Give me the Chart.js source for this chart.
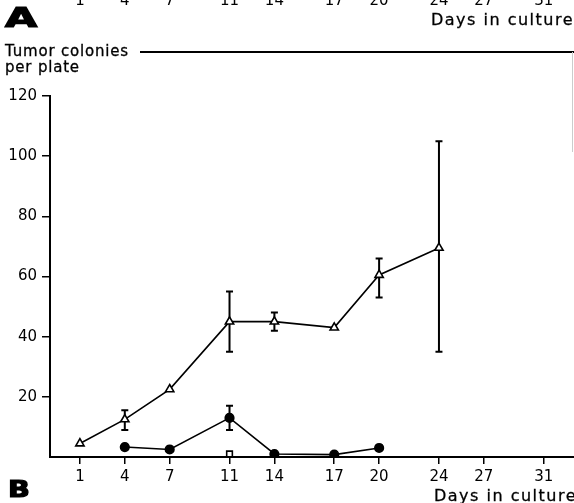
<!DOCTYPE html>
<html>
<head>
<meta charset="utf-8">
<script src="https://cdn.jsdelivr.net/npm/chart.js@4/dist/chart.umd.min.js"></script>
<style>
  html, body { margin: 0; padding: 0; background: #fff; overflow: hidden; }
  #wrap { position: relative; width: 574px; height: 503px; overflow: hidden; font-family: "DejaVu Sans", sans-serif; color: #000; }
  #wrap canvas { position: absolute; left: 0; top: 0; }
  .txt { position: absolute; white-space: nowrap; line-height: 1; -webkit-text-stroke: 0.3px #000; }
  .panel { font-weight: bold; transform-origin: left top; -webkit-text-stroke: 1.2px #000; }
  .xtitle { font-size: 16px; letter-spacing: 1.5px; }
  .ytitle { font-size: 15px; letter-spacing: 0.8px; left: 5px; }
</style>
</head>
<body>
<div id="wrap">
  <canvas id="colonyChart" width="580" height="503"></canvas>
  <div class="txt panel" style="left:5px; top:5px; font-size:26px; transform:scaleX(1.6);">A</div>
  <div class="txt xtitle" style="right:0; top:11.5px;">Days in culture</div>
  <div class="txt ytitle" style="top:44px;">Tumor colonies</div>
  <div class="txt ytitle" style="top:59.5px;">per plate</div>
  <div style="position:absolute; left:140px; top:51px; width:434px; border-top:2px solid #000;"></div>
  <div style="position:absolute; left:572px; top:52px; width:1px; height:100px; background:#ccc;"></div>
  <div class="txt panel" style="left:8px; top:477.5px; font-size:23px; transform:scaleX(1.25);">B</div>
  <div class="txt xtitle" style="right:-3px; top:488px;">Days in culture</div>
</div>
<script>
// Tumor colonies per plate vs days in culture (panel B)
// x axis of the figure is not linear: one category per step, labelled days only

const dayCategories = ['', '', '1', '', '', '4', '', '', '7', '', '', '', '11', '', '', '14', '', '', '',
    '17', '', '', '20', '', '', '', '24', '', '', '27', '', '', '', '31', '', ''];

const yTicks = [0, 20, 40, 60, 80, 100, 120];

// open triangles
const triangleDays = ['1', '4', '7', '11', '14', '17', '20', '24'];
const triangleMean = [4.5, 12.5, 22.5, 45, 45, 43, 60.5, 69.5];
const triangleLow = [null, 9, null, 35, 42, null, 53, 35];
const triangleHigh = [null, 15.5, null, 55, 48, null, 66, 105];

// filled circles
const circleDays = ['4', '7', '11', '14', '17', '20'];
const circleMean = [3.3, 2.5, 13, 1, 0.8, 3];
const circleLow = [null, null, 9, null, null, null];
const circleHigh = [null, null, 17, null, null, null];

// open square
const squareDays = ['11'];
const squareMean = [1];

const toPoints = (days, values) => days.map((d, i) => ({ x: d, y: values[i] }));

// vertical bars with caps, drawn before each dataset so markers sit on top
const errorBars = {
    id: 'errorBars',
    beforeDatasetDraw(chart, args) {
        const ds = chart.data.datasets[args.index];
        if (!ds.errLow) return;
        const yScale = chart.scales.y;
        const ctx = chart.ctx;
        ctx.save();
        ctx.strokeStyle = '#000';
        ctx.lineWidth = 2;
        args.meta.data.forEach((pt, i) => {
            const lo = ds.errLow[i];
            const hi = ds.errHigh[i];
            if (lo == null || hi == null) return;
            const y1 = yScale.getPixelForValue(lo);
            const y2 = yScale.getPixelForValue(hi);
            ctx.beginPath();
            ctx.moveTo(pt.x, y1); ctx.lineTo(pt.x, y2);
            ctx.moveTo(pt.x - 3.5, y1); ctx.lineTo(pt.x + 3.5, y1);
            ctx.moveTo(pt.x - 3.5, y2); ctx.lineTo(pt.x + 3.5, y2);
            ctx.stroke();
        });
        ctx.restore();
    }
};

// cut-off tick labels of panel A at the very top
const panelATicks = {
    id: 'panelATicks',
    afterDraw(chart) {
        const xs = chart.scales.x;
        const ctx = chart.ctx;
        ctx.save();
        ctx.fillStyle = '#000';
        ctx.font = '15px "DejaVu Sans"';
        ctx.textAlign = 'center';
        ctx.textBaseline = 'alphabetic';
        dayCategories.forEach((lab, i) => {
            if (lab) ctx.fillText(lab, xs.getPixelForValue(i), 4.5);
        });
        ctx.restore();
    }
};

const baseLine = {
    type: 'line',
    borderColor: '#000',
    borderWidth: 1.6,
    tension: 0,
    pointBorderColor: '#000',
    pointBorderWidth: 1.6
};

new Chart(document.getElementById('colonyChart'), {
    type: 'line',
    data: {
        labels: dayCategories,
        datasets: [
            Object.assign({}, baseLine, {
                label: 'Open triangles',
                data: toPoints(triangleDays, triangleMean),
                errLow: triangleLow,
                errHigh: triangleHigh,
                pointStyle: 'triangle',
                pointRadius: 4.8,
                pointBackgroundColor: '#fff'
            }),
            Object.assign({}, baseLine, {
                label: 'Filled circles',
                data: toPoints(circleDays, circleMean),
                errLow: circleLow,
                errHigh: circleHigh,
                pointStyle: 'circle',
                pointRadius: 4.3,
                pointBackgroundColor: '#000'
            }),
            Object.assign({}, baseLine, {
                label: 'Open squares',
                data: toPoints(squareDays, squareMean),
                showLine: false,
                pointStyle: 'rect',
                pointRadius: 4,
                pointBackgroundColor: '#fff'
            })
        ]
    },
    options: {
        responsive: false,
        animation: false,
        devicePixelRatio: 1,
        layout: { padding: { top: 96, right: 1.5, bottom: 0, left: 0 } },
        plugins: {
            legend: { display: false },
            tooltip: { enabled: false }
        },
        scales: {
            x: {
                type: 'category',
                offset: false,
                afterFit: (scale) => { scale.height = 46; },
                border: { display: true, color: '#000', width: 2 },
                grid: {
                    drawOnChartArea: false,
                    drawTicks: true,
                    tickLength: 7,
                    lineWidth: 1.5,
                    color: (ctx) => (dayCategories[ctx.index] ? '#000' : 'rgba(0,0,0,0)')
                },
                ticks: {
                    autoSkip: false,
                    maxRotation: 0,
                    padding: 4,
                    color: '#000',
                    font: { family: '"DejaVu Sans"', size: 15 }
                }
            },
            y: {
                type: 'linear',
                min: yTicks[0],
                max: yTicks[yTicks.length - 1],
                afterFit: (scale) => { scale.width = 50; },
                afterBuildTicks: (scale) => { scale.ticks = yTicks.map((v) => ({ value: v })); },
                border: { display: true, color: '#000', width: 2 },
                grid: {
                    drawOnChartArea: false,
                    drawTicks: true,
                    tickLength: 8,
                    lineWidth: 1.5,
                    color: (ctx) => (ctx.tick && ctx.tick.value === 0 ? 'rgba(0,0,0,0)' : '#000')
                },
                ticks: {
                    padding: 5,
                    color: '#000',
                    font: { family: '"DejaVu Sans"', size: 15 },
                    callback: (v) => (v === 0 ? '' : v)
                }
            }
        }
    },
    plugins: [errorBars, panelATicks]
});
</script>
</body>
</html>
